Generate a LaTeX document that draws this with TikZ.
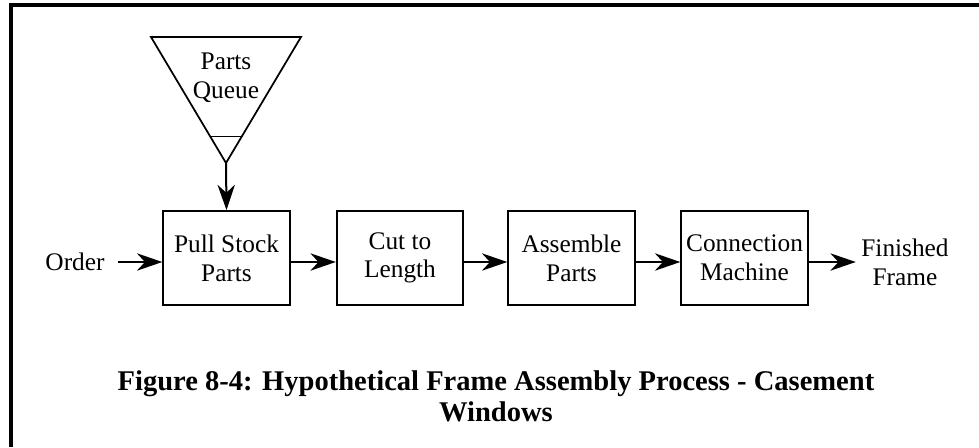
\documentclass[tikz,border=0pt]{standalone}
\usepackage{fontspec}
\setmainfont{Liberation Serif}
\usetikzlibrary{arrows.meta,calc}

\begin{document}
\begin{tikzpicture}[x=0.75pt,y=-0.75pt,
      every node/.style={font=\fontsize{19}{21.5}\selectfont,align=center},
      stepbox/.style={draw,line width=1.3pt,minimum width=95pt,minimum height=70.5pt},
      flow/.style={-{Stealth[length=19pt,width=13pt,inset=6pt]},line width=1.5pt},
      >=Stealth
    ]
      \useasboundingbox (0,0) rectangle (979,447);
      \draw[line width=2.3pt] (11,447) -- (11,5) -- (979,5);

      \coordinate (qtl) at (151,37);
      \coordinate (qtr) at (301,37);
      \coordinate (qapex) at (226,163);
      \draw[line width=1.3pt,line join=miter] (qtl) -- (qtr) -- (qapex) -- cycle;
      \draw[line width=1.3pt] ($(qtl)!0.79!(qapex)$) -- ($(qtr)!0.79!(qapex)$);
      \node (queue) at (226,78) {Parts\\Queue};

      \node[stepbox] (pull) at (226.5,258) {Pull Stock\\Parts};
      \node[stepbox] (cut) at (400,258) {Cut to\\Length};
      \node[stepbox] (assemble) at (571.5,258) {Assemble\\Parts};
      \node[stepbox] (connect) at (744.5,258) {Connection\\Machine};

      \node[inner xsep=10pt] (order) at (75,262) {Order};
      \node[inner xsep=4pt] (finished) at (905,262) {Finished\\Frame};

      \draw[flow] (qapex) -- (pull.north);
      \draw[flow] (order.east) -- (pull.west |- order.east);
      \foreach \fromName/\toName in {pull/cut,cut/assemble,assemble/connect}
        \draw[flow] (\fromName.east |- order.east) -- (\toName.west |- order.east);
      \draw[flow] (connect.east |- order.east) -- (finished.west |- order.east);

      \node[font=\bfseries\fontsize{21.4}{23}\selectfont] (caption) at (496,396)
        {Figure 8-4: Hypothetical Frame Assembly Process - Casement\\Windows};
    \end{tikzpicture}
\end{document}
